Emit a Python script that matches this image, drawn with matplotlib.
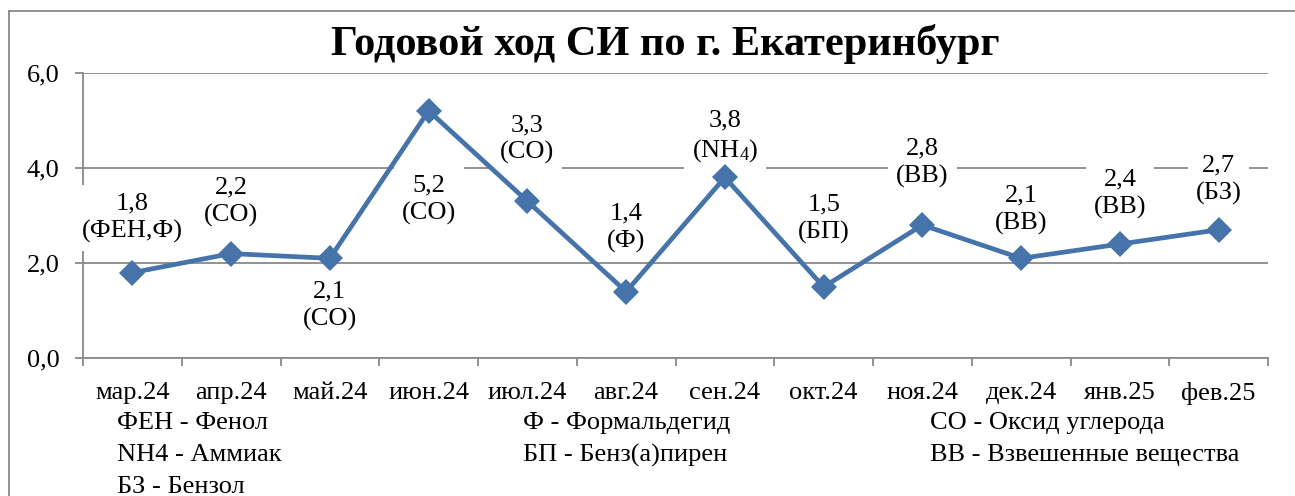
import matplotlib
matplotlib.use("Agg")
import matplotlib.pyplot as plt
from matplotlib.lines import Line2D

SERIF = ['Liberation Serif', 'DejaVu Serif']
plt.rcParams['font.family'] = SERIF
plt.rcParams['mathtext.fontset'] = 'custom'
plt.rcParams['mathtext.rm'] = 'Liberation Serif'
plt.rcParams['mathtext.it'] = 'Liberation Serif:italic'

# ---- data ----
months = ["мар.24", "апр.24", "май.24", "июн.24", "июл.24", "авг.24",
          "сен.24", "окт.24", "ноя.24", "дек.24", "янв.25", "фев.25"]
si_values = [1.8, 2.2, 2.1, 5.2, 3.3, 1.4, 3.8, 1.5, 2.8, 2.1, 2.4, 2.7]
substances = ["ФЕН,Ф", "CO", "CO", "CO", "CO", "Ф", "NH$_4$", "БП", "BB", "BB", "BB", "БЗ"]
y_ticks = [0, 2, 4, 6]
legend_rows = [
    ["ФЕН - Фенол", "Ф - Формальдегид", "CO - Оксид углерода"],
    ["NH4 - Аммиак", "БП - Бенз(а)пирен", "BB - Взвешенные вещества"],
    ["БЗ - Бензол", "", ""],
]
title = "Годовой ход СИ по г. Екатеринбург"

# ---- style / placement ----
W, H = 1295, 496
label_offsets_px = [55, 52, -47, -89, 62, 64, 41, 68, 62, 49, 50, 50]
line_color = "#4673AA"
grid_color = "#898989"
fs = 19

fig = plt.figure(figsize=(W / 100, H / 100), dpi=100)
fig.patch.set_facecolor("white")

def fx(px):
    return px / W

def fy(py):
    return 1 - py / H

# chart-area border (left and top visible; right/bottom cut off)
fig.add_artist(Line2D([fx(9.3), fx(9.3)], [fy(11), fy(H + 5)], color=grid_color, lw=1.3))
fig.add_artist(Line2D([fx(9.3), fx(W + 5)], [fy(11), fy(11)], color=grid_color, lw=1.3))

left, right, top, bottom = 83, 1268, 72.7, 358.3
ax = fig.add_axes([fx(left), fy(bottom), fx(right - left), (bottom - top) / H])

x = list(range(len(months)))
ax.plot(x, si_values, color=line_color, lw=3.4, marker="D", markersize=13,
        markeredgewidth=0, zorder=5, clip_on=False)

ax.set_xlim(-0.5, len(months) - 0.5)
ax.set_ylim(0, 6)
ax.set_yticks(y_ticks)
ax.set_yticklabels([f"{v:.1f}".replace(".", ",") for v in y_ticks], fontsize=fs, family=SERIF)
ax.set_xticks(x)
ax.set_xticklabels(months, fontsize=fs, family=SERIF)
ax.set_xticks([i - 0.5 for i in range(len(months) + 1)], minor=True)
ax.tick_params(axis="x", which="major", length=0, pad=17)
ax.tick_params(axis="x", which="minor", length=6, width=1.3, color=grid_color, direction="out")
ax.tick_params(axis="y", which="major", length=6, width=1.3, color=grid_color, direction="out", pad=11)

ax.yaxis.grid(True, color=grid_color, lw=1.3, zorder=1)
ax.set_axisbelow(True)
for s in ["top", "right"]:
    ax.spines[s].set_visible(False)
for s in ["left", "bottom"]:
    ax.spines[s].set_color(grid_color)
    ax.spines[s].set_linewidth(1.3)
    ax.spines[s].set_zorder(2)

for xi, v, sub, off in zip(x, si_values, substances, label_offsets_px):
    ax.annotate(f"{v:.1f}".replace(".", ",") + "\n(" + sub + ")", xy=(xi, v),
                xytext=(0, off), textcoords="offset pixels", ha="center", va="center",
                multialignment="center", fontsize=fs, family=SERIF, linespacing=1.3, zorder=3,
                bbox=dict(boxstyle="square,pad=0.3", fc="white", ec="none"))

fig.text(fx(665), fy(44), title, fontsize=30.5, fontweight="bold", family=SERIF,
         ha="center", va="center")

col_x = [117, 523, 930]
row_y = [423, 455, 487]
for r, row in enumerate(legend_rows):
    for c, txt in enumerate(row):
        if txt:
            fig.text(fx(col_x[c]), fy(row_y[r]), txt, fontsize=fs, family=SERIF,
                     ha="left", va="center")

fig.savefig("out.png", dpi=100)
